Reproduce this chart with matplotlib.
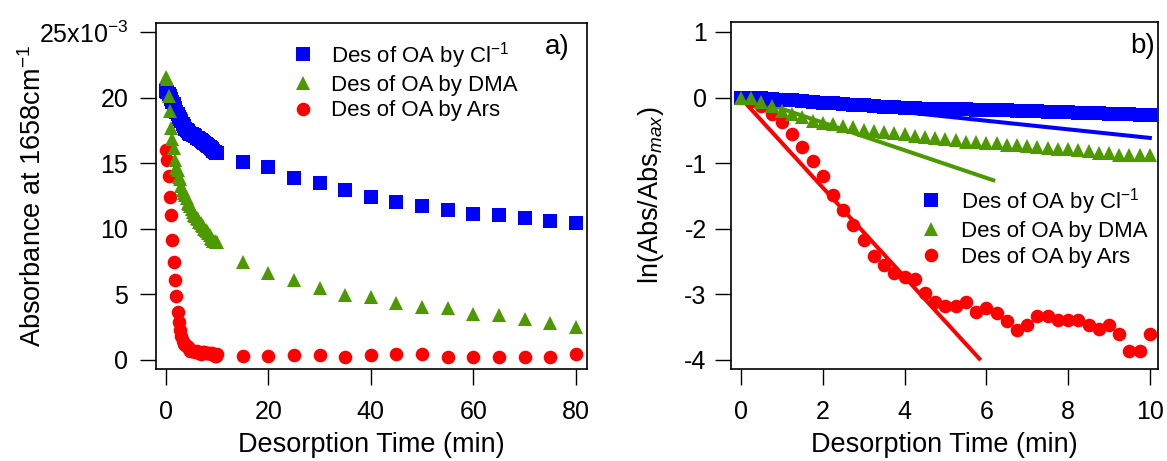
import numpy as np
import matplotlib
matplotlib.use("Agg")
import matplotlib.pyplot as plt
from matplotlib.lines import Line2D

plt.rcParams['font.family'] = ['Liberation Sans', 'DejaVu Sans']
plt.rcParams['mathtext.fontset'] = 'custom'
plt.rcParams['mathtext.rm'] = 'Liberation Sans'
plt.rcParams['mathtext.it'] = 'Liberation Sans:italic'
plt.rcParams['mathtext.bf'] = 'Liberation Sans:bold'
plt.rcParams['axes.unicode_minus'] = False

# sampling times (min): every 0.25 min up to 10 min, then every 5 min
t_fine = np.arange(41) * 0.25
t_coarse = np.arange(15, 81, 5)

# ln(Abs/Abs_max), panel b)
ln_cl = [0, -0.005, -0.01, -0.02, -0.03, -0.04, -0.05, -0.065, -0.08, -0.09,
         -0.10, -0.11, -0.12, -0.13, -0.14, -0.15, -0.155, -0.16, -0.17, -0.175,
         -0.175, -0.18, -0.18, -0.185, -0.19, -0.19, -0.195, -0.20, -0.205, -0.21,
         -0.215, -0.22, -0.225, -0.23, -0.235, -0.24, -0.245, -0.25, -0.255, -0.26,
         -0.26]
ln_dma = [0, -0.01, -0.07, -0.13, -0.20, -0.25, -0.29, -0.35, -0.39, -0.40,
          -0.44, -0.45, -0.49, -0.51, -0.53, -0.54, -0.56, -0.59, -0.60, -0.61,
          -0.63, -0.65, -0.67, -0.68, -0.69, -0.70, -0.72, -0.73, -0.74, -0.75,
          -0.77, -0.78, -0.79, -0.80, -0.82, -0.84, -0.85, -0.87, -0.87, -0.88,
          -0.88]
ln_ars = [0, -0.05, -0.13, -0.25, -0.37, -0.56, -0.76, -0.97, -1.19, -1.48,
          -1.72, -1.94, -2.17, -2.41, -2.55, -2.67, -2.74, -2.77, -2.98, -3.12,
          -3.18, -3.18, -3.12, -3.27, -3.21, -3.28, -3.40, -3.54, -3.46, -3.33,
          -3.33, -3.39, -3.39, -3.39, -3.46, -3.53, -3.46, -3.61, -3.87, -3.87,
          -3.60]

# Abs_max at t = 0 (x10^-3)
absmax_cl = 20.5
absmax_dma = 21.6
absmax_ars = 16.0

# absorbance at 15..80 min (x10^-3), panel a)
abs_cl_late = [15.12, 14.68, 13.85, 13.52, 12.96, 12.45, 12.07, 11.74, 11.43,
               11.13, 11.05, 10.80, 10.62, 10.47]
abs_dma_late = [7.46, 6.63, 6.07, 5.49, 4.98, 4.83, 4.34, 4.03, 3.94, 3.53,
                3.39, 3.13, 2.85, 2.54]
abs_ars_late = [0.30, 0.30, 0.38, 0.38, 0.20, 0.38, 0.46, 0.43, 0.20, 0.20,
                0.25, 0.20, 0.20, 0.46]

# linear fits drawn in panel b)
fit_cl_t, fit_cl_y = [0, 10], [0.04, -0.615]
fit_dma_t, fit_dma_y = [0, 6.17], [0.04, -1.26]
fit_ars_t, fit_ars_y = [0, 5.83], [-0.01, -3.98]

labels = ['Des of OA by Cl$^{-1}$', 'Des of OA by DMA', 'Des of OA by Ars']

blue = '#0000ff'
green = '#4c9a00'
red = '#ff0000'

# panel a) curve over the first 10 min from Abs_max and ln values
t_a = np.concatenate([t_fine, t_coarse])
abs_cl = np.concatenate([absmax_cl * np.exp(ln_cl), abs_cl_late])
abs_dma = np.concatenate([absmax_dma * np.exp(ln_dma), abs_dma_late])
abs_ars = np.concatenate([absmax_ars * np.exp(ln_ars), abs_ars_late])

fig = plt.figure(figsize=(11.67, 4.61), dpi=100)
ax1 = fig.add_axes([0.1337, 0.1996, 0.3693, 0.7505])
ax2 = fig.add_axes([0.6264, 0.1996, 0.3659, 0.7527])

ms_sq, ms_tri, ms_o = 9.5, 10, 9.8

# panel a)
ax1.plot(t_a, abs_ars, 'o', color=red, ms=ms_o, mew=0, zorder=2)
ax1.plot(t_a, abs_cl, 's', color=blue, ms=ms_sq, mew=0, zorder=3)
ax1.plot(t_a, abs_dma, '^', color=green, ms=ms_tri, mew=0, zorder=4)
ax1.set_xlim(-1.95, 82.2)
ax1.set_ylim(-0.69, 25.69)
ax1.set_xticks([0, 20, 40, 60, 80])
ax1.set_yticks([0, 5, 10, 15, 20, 25])
ax1.set_yticklabels(['0', '5', '10', '15', '20', '25x10$^{-3}$'])
ax1.set_xlabel('Desorption Time (min)', fontsize=19.5, labelpad=5.5)
ax1.set_ylabel('Absorbance at 1658cm$^{-1}$', fontsize=19.5)
ax1.yaxis.set_label_coords(-0.253, 0.5)
ax1.tick_params(axis='x', length=11.5, width=1, labelsize=18, pad=11)
ax1.tick_params(axis='y', length=11.5, width=1, labelsize=18, pad=8.5)
ax1.text(0.93, 0.93, 'a)', transform=ax1.transAxes, fontsize=20,
         ha='center', va='center')

# panel b)
ax2.plot(fit_cl_t, fit_cl_y, '-', color=blue, lw=2.9, zorder=1)
ax2.plot(fit_dma_t, fit_dma_y, '-', color=green, lw=2.9, zorder=1)
ax2.plot(fit_ars_t, fit_ars_y, '-', color=red, lw=2.9, zorder=1)
ax2.plot(t_fine, ln_ars, 'o', color=red, ms=ms_o, mew=0, zorder=2)
ax2.plot(t_fine, ln_cl, 's', color=blue, ms=ms_sq, mew=0, zorder=3)
ax2.plot(t_fine, ln_dma, '^', color=green, ms=ms_tri, mew=0, zorder=4)
ax2.set_xlim(-0.245, 10.2)
ax2.set_ylim(-4.137, 1.152)
ax2.set_xticks([0, 2, 4, 6, 8, 10])
ax2.set_yticks([1, 0, -1, -2, -3, -4])
ax2.set_xlabel('Desorption Time (min)', fontsize=19.5, labelpad=5.5)
ax2.set_ylabel('ln(Abs/Abs$_{max}$)', fontsize=19.5)
ax2.yaxis.set_label_coords(-0.152, 0.5)
ax2.tick_params(axis='x', length=11.5, width=1, labelsize=18, pad=11)
ax2.tick_params(axis='y', length=11.5, width=1, labelsize=18, pad=6)
ax2.text(0.965, 0.93, 'b)', transform=ax2.transAxes, fontsize=20,
         ha='center', va='center')

for ax in (ax1, ax2):
    for sp in ax.spines.values():
        sp.set_linewidth(1.2)

handles = [Line2D([], [], ls='none', marker='s', color=blue, ms=ms_sq, mew=0),
           Line2D([], [], ls='none', marker='^', color=green, ms=ms_tri, mew=0),
           Line2D([], [], ls='none', marker='o', color=red, ms=ms_o, mew=0)]

ax1.legend(handles, labels, loc='upper left', bbox_to_anchor=(0.316, 0.952),
           frameon=False, fontsize=16, handlelength=1.0, handletextpad=0.75,
           labelspacing=0.2, borderpad=0, borderaxespad=0, numpoints=1)
ax2.legend(handles, labels, loc='upper left', bbox_to_anchor=(0.443, 0.528),
           frameon=False, fontsize=16, handlelength=1.0, handletextpad=0.85,
           labelspacing=0.2, borderpad=0, borderaxespad=0, numpoints=1)

fig.savefig('out.png', dpi=100)
